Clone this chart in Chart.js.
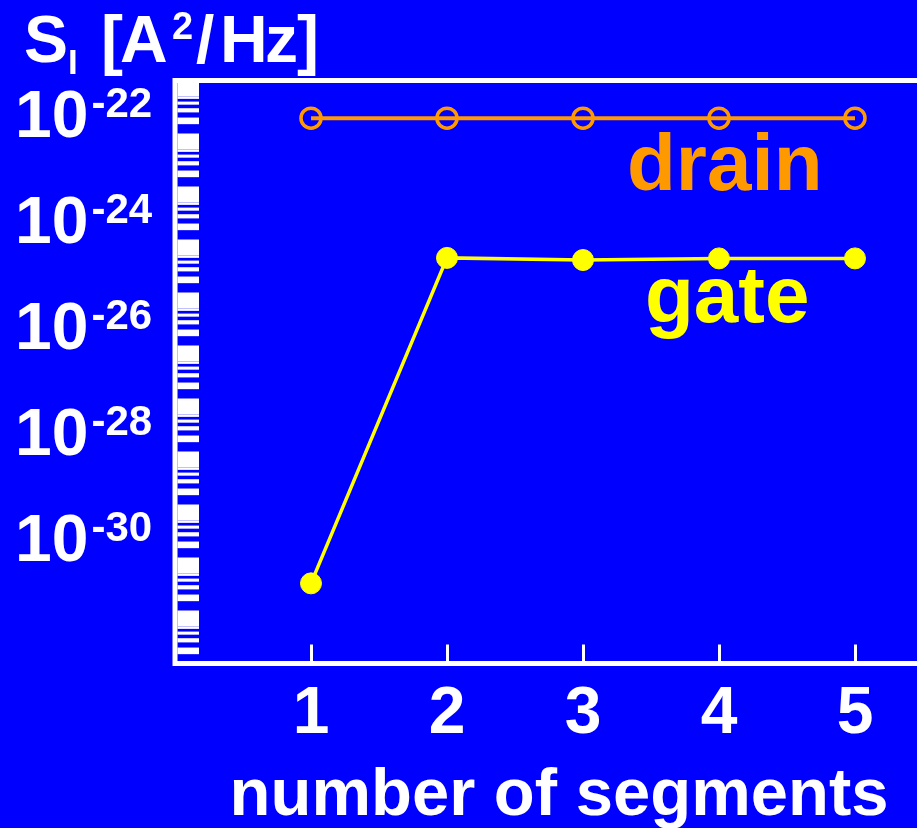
<!DOCTYPE html>
<html>
<head>
<meta charset="utf-8">
<script src="https://cdn.jsdelivr.net/npm/chart.js@4.4.1/dist/chart.umd.min.js"></script>
<style>
html,body{margin:0;padding:0;background:#0000ff;overflow:hidden}
canvas{display:block}
</style>
</head>
<body>
<canvas id="c" width="917" height="828"></canvas>
<script>
// ---- data ----
const segments = [1, 2, 3, 4, 5];
const drainNoise = [3.9e-23, 3.9e-23, 3.9e-23, 3.9e-23, 3.9e-23];
const gateNoise = [6.5e-32, 9.0e-26, 8.2e-26, 8.8e-26, 8.8e-26];
const seriesNames = ['drain', 'gate'];
const xTickLabels = ['1', '2', '3', '4', '5'];
const yLabelExponents = [-22, -24, -26, -28, -30];
const yMinorDecades = [-33, -32, -31, -30, -29, -28, -27, -26, -25, -24, -23, -22];
const yMin = 2e-33, yMax = 2e-22;
const xMin = 0, xMax = 5.456;
const xTitle = 'number of segments';

const FONT = '"Liberation Sans", Arial, Helvetica, sans-serif';
const BLUE = '#0000ff', WHITE = '#ffffff', ORANGE = '#ff9900', YELLOW = '#ffff00';

const decor = {
  id: 'decor',
  beforeDraw(chart) {
    const ctx = chart.ctx;
    ctx.save();
    ctx.fillStyle = BLUE;
    ctx.fillRect(0, 0, chart.width, chart.height);
    ctx.restore();
  },
  beforeDatasetsDraw(chart) {
    const {ctx, chartArea: a, scales: {x, y}} = chart;
    ctx.save();
    // alternating minor tick band along the y axis
    ctx.fillStyle = WHITE;
    const bandL = a.left + 2.5, bandR = a.left + 24;
    for (const e of yMinorDecades) {
      for (let k = 1; k <= 9; k += 2) {
        const lo = Math.max(k * Math.pow(10, e), yMin);
        const hi = Math.min((k + 1) * Math.pow(10, e), yMax);
        if (hi <= lo) continue;
        const p1 = y.getPixelForValue(lo), p2 = y.getPixelForValue(hi);
        ctx.fillRect(bandL, p2, bandR - bandL, p1 - p2);
      }
    }
    // frame lines
    ctx.strokeStyle = WHITE;
    ctx.lineWidth = 5;
    ctx.beginPath();
    ctx.moveTo(a.left, a.top - 2.5); ctx.lineTo(a.left, a.bottom + 2.5);
    ctx.moveTo(a.left - 2.5, a.top); ctx.lineTo(a.right, a.top);
    ctx.moveTo(a.left - 2.5, a.bottom); ctx.lineTo(a.right, a.bottom);
    ctx.stroke();
    // x ticks (inward)
    ctx.lineWidth = 3;
    ctx.beginPath();
    for (const v of segments) {
      const px = Math.round(x.getPixelForValue(v)) + 0.5;
      ctx.moveTo(px, a.bottom); ctx.lineTo(px, a.bottom - 19);
    }
    ctx.stroke();
    ctx.restore();
  },
  afterDraw(chart) {
    const {ctx, chartArea: a, scales: {x, y}} = chart;
    ctx.save();
    ctx.fillStyle = WHITE;
    ctx.textBaseline = 'alphabetic';
    // y tick labels 10^n
    for (const e of yLabelExponents) {
      const py = y.getPixelForValue(Math.pow(10, e));
      ctx.textAlign = 'left';
      ctx.font = 'bold 66px ' + FONT;
      ctx.fillText('10', 15, py + 41);
      const w = ctx.measureText('10').width;
      ctx.font = 'bold 42px ' + FONT;
      ctx.fillText('-' + Math.abs(e), 15 + w + 3, py + 21);
    }
    // x tick labels
    ctx.textAlign = 'center';
    ctx.font = 'bold 66px ' + FONT;
    segments.forEach((v, i) => {
      ctx.fillText(xTickLabels[i], x.getPixelForValue(v), 733);
    });
    // x title
    ctx.font = 'bold 67px ' + FONT;
    ctx.fillText(xTitle, 559, 815);
    // y title  S_I [A^2/Hz]
    ctx.textAlign = 'left';
    const parts = [
      {t: 'S', x: 24, b: 62, s: 66},
      {t: 'I', x: 68, b: 74, s: 35},
      {t: '[', x: 101, b: 62, s: 66},
      {t: 'A', x: 120, b: 62, s: 66},
      {t: '2', x: 172, b: 39, s: 38},
      {t: '/', x: 196, b: 62, s: 66},
      {t: 'H', x: 220, b: 62, s: 66},
      {t: 'z', x: 265, b: 62, s: 66},
      {t: ']', x: 297, b: 62, s: 66}
    ];
    for (const p of parts) {
      ctx.font = 'bold ' + p.s + 'px ' + FONT;
      ctx.fillText(p.t, p.x, p.b);
    }
    // series labels
    ctx.font = 'bold 80px ' + FONT;
    ctx.fillStyle = ORANGE;
    ctx.fillText(seriesNames[0], 627, 190);
    ctx.fillStyle = YELLOW;
    ctx.fillText(seriesNames[1], 645, 322);
    ctx.restore();
  }
};

new Chart(document.getElementById('c'), {
  type: 'line',
  data: {
    datasets: [
      {
        label: seriesNames[0],
        data: segments.map((s, i) => ({x: s, y: drainNoise[i]})),
        borderColor: ORANGE,
        backgroundColor: 'rgba(0,0,0,0)',
        borderWidth: 4,
        pointRadius: 10,
        pointBorderWidth: 3.5,
        pointBorderColor: ORANGE,
        pointBackgroundColor: 'rgba(0,0,0,0)',
        tension: 0
      },
      {
        label: seriesNames[1],
        data: segments.map((s, i) => ({x: s, y: gateNoise[i]})),
        borderColor: YELLOW,
        backgroundColor: YELLOW,
        borderWidth: 3.5,
        pointRadius: 10.5,
        pointBorderWidth: 1,
        pointBorderColor: YELLOW,
        pointBackgroundColor: YELLOW,
        tension: 0
      }
    ]
  },
  options: {
    responsive: false,
    animation: false,
    devicePixelRatio: 1,
    layout: {autoPadding: false, padding: {left: 175, top: 80.5, right: 0, bottom: 164.5}},
    plugins: {legend: {display: false}, tooltip: {enabled: false}},
    scales: {
      x: {type: 'linear', min: xMin, max: xMax, display: false},
      y: {type: 'logarithmic', min: yMin, max: yMax, bounds: 'data', display: false}
    }
  },
  plugins: [decor]
});
</script>
</body>
</html>
